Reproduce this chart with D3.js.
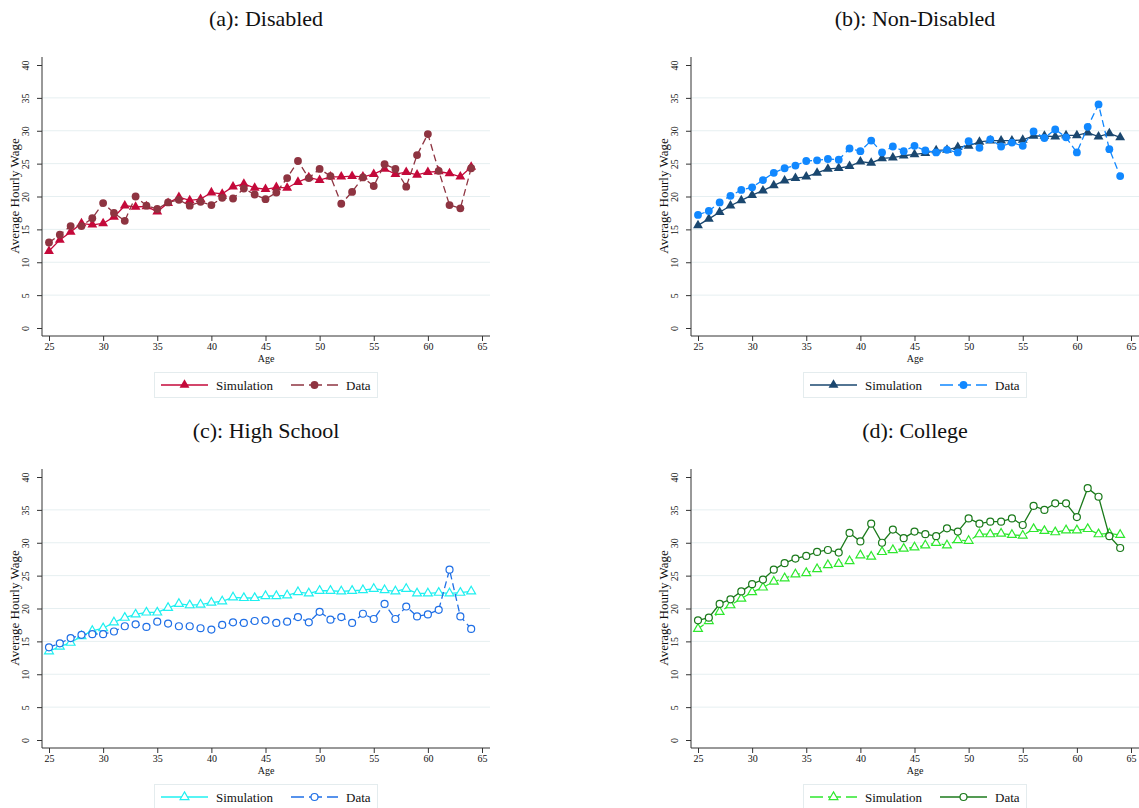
<!DOCTYPE html>
<html>
<head>
<meta charset="utf-8">
<script src="https://cdn.jsdelivr.net/npm/d3@7"></script>
<style>
  body { margin: 0; background: #fff; }
  text { font-family: "Liberation Serif", "Times New Roman", serif; fill: #111; }
</style>
</head>
<body>
<svg id="chart" width="1139" height="808"></svg>
<script>
// ages on the x axis
var ages = [25,26,27,28,29,30,31,32,33,34,35,36,37,38,39,40,41,42,43,44,
            45,46,47,48,49,50,51,52,53,54,55,56,57,58,59,60,61,62,63,64];

// (a) disabled
var disabledSim  = [11.7,13.4,14.6,15.9,15.7,15.9,16.9,18.6,18.4,18.5,17.7,19.0,19.9,19.4,19.6,20.6,20.4,21.5,21.9,21.3,
                    21.1,21.4,21.3,22.2,22.9,22.5,23.0,23.0,23.1,23.0,23.4,24.2,23.4,23.7,23.3,23.7,23.8,23.5,23.0,24.5];
var disabledData = [13.0,14.2,15.5,15.5,16.7,19.0,17.5,16.3,20.0,18.6,18.1,19.1,19.5,18.6,19.2,18.7,19.8,19.7,21.2,20.3,
                    19.6,20.6,22.8,25.4,22.8,24.2,23.1,18.9,20.7,22.9,21.6,24.9,24.2,21.5,26.3,29.5,23.9,18.7,18.2,24.3];
// (b) non-disabled
var nonDisSim    = [15.6,16.6,17.6,18.6,19.4,20.2,20.9,21.7,22.4,22.8,23.0,23.6,24.2,24.3,24.6,25.3,25.1,25.8,25.9,26.2,
                    26.4,26.6,27.0,27.1,27.5,27.7,28.3,28.5,28.5,28.5,28.6,29.2,29.2,29.1,29.3,29.3,29.7,29.1,29.6,29.0];
var nonDisData   = [17.2,17.8,19.1,20.1,21.0,21.4,22.5,23.6,24.3,24.7,25.4,25.5,25.7,25.6,27.3,26.9,28.5,26.7,27.6,26.9,
                    27.7,27.0,26.7,27.1,26.7,28.4,27.4,28.7,27.6,28.2,27.7,29.9,28.9,30.2,29.0,26.7,30.6,34.0,27.2,23.1];
// (c) high school
var highSchSim   = [13.5,14.2,14.8,15.8,16.6,17.0,17.9,18.6,19.1,19.4,19.4,20.1,20.7,20.5,20.6,20.9,21.1,21.7,21.6,21.6,
                    21.9,21.9,22.0,22.5,22.3,22.7,22.7,22.6,22.7,22.8,23.0,22.8,22.6,23.0,22.3,22.3,22.4,22.3,22.4,22.6];
var highSchData  = [14.1,14.7,15.5,16.0,16.1,16.1,16.5,17.3,17.6,17.2,18.0,17.7,17.3,17.3,17.0,16.8,17.5,17.9,17.8,18.1,
                    18.2,17.8,18.0,18.7,17.9,19.5,18.3,18.7,17.8,19.2,18.4,20.7,18.4,20.3,18.8,19.1,19.8,25.9,18.8,16.9];
// (d) college
var collegeSim   = [16.9,18.1,19.5,20.5,21.5,22.5,23.2,24.1,24.6,25.2,25.4,26.0,26.6,26.8,27.2,28.1,27.9,28.6,28.9,29.1,
                    29.3,29.6,30.0,29.6,30.4,30.3,31.3,31.3,31.4,31.2,31.1,32.1,31.8,31.6,31.9,31.9,32.1,31.3,31.4,31.2];
var collegeData  = [18.2,18.6,20.7,21.4,22.6,23.7,24.4,25.9,26.9,27.6,28.0,28.6,28.9,28.5,31.5,30.2,32.9,30.0,32.0,30.7,
                    31.7,31.3,31.0,32.2,31.7,33.7,32.9,33.2,33.2,33.7,32.7,35.6,35.0,36.0,36.0,33.9,38.3,37.0,31.0,29.2];

var xTicks = [25, 30, 35, 40, 45, 50, 55, 60, 65];
var yTicks = [0, 5, 10, 15, 20, 25, 30, 35, 40];
var seriesNames = ["Simulation", "Data"];

var panels = [
  {title: "(a): Disabled", dx: 0, dy: 0, sim: disabledSim, dat: disabledData,
   simColor: "#c4093a", datColor: "#8e3441", simFill: true, datFill: true, simDash: null, datDash: "7,4"},
  {title: "(b): Non-Disabled", dx: 649, dy: 0, sim: nonDisSim, dat: nonDisData,
   simColor: "#1a476f", datColor: "#1188ff", simFill: true, datFill: true, simDash: null, datDash: "7,4"},
  {title: "(c): High School", dx: 0, dy: 412, sim: highSchSim, dat: highSchData,
   simColor: "#1ff0f0", datColor: "#1f6fe6", simFill: false, datFill: false, simDash: null, datDash: "7,4"},
  {title: "(d): College", dx: 649, dy: 412, sim: collegeSim, dat: collegeData,
   simColor: "#2ee82e", datColor: "#1b7a1b", simFill: false, datFill: false, simDash: "7,4", datDash: null}
];

var svg = d3.select("#chart");

var x = d3.scaleLinear().domain([25, 65]).range([49, 482]);
var y = d3.scaleLinear().domain([0, 40]).range([328, 65]);

function marker(g, type, color, filled) {
  var big = filled ? 1 : 0.8;
  var sym = type == "tri" ? d3.symbolTriangle : d3.symbolCircle;
  return g.attr("d", d3.symbol().type(sym).size(type == "tri" ? 42 * big : 48 * big))
    .attr("fill", filled ? color : "#fff")
    .attr("stroke", color)
    .attr("stroke-width", filled ? 0 : 1.2);
}

panels.forEach(function(p) {
  var g = svg.append("g").attr("transform", "translate(" + p.dx + "," + p.dy + ")");

  g.append("text").attr("x", 266).attr("y", 26).attr("text-anchor", "middle")
    .style("font-size", "22px").text(p.title);

  // gridlines
  g.selectAll(".grid").data(yTicks.filter(function(d) { return d > 0 && d < 40; }))
    .enter().append("line")
    .attr("x1", 42).attr("x2", 490)
    .attr("y1", function(d) { return y(d); }).attr("y2", function(d) { return y(d); })
    .attr("stroke", "#e6eff1").attr("stroke-width", 1);

  // y axis
  var ya = g.append("g").attr("transform", "translate(42,0)")
    .call(d3.axisLeft(y).tickValues(yTicks).tickSize(5).tickSizeOuter(0));
  ya.select(".domain").attr("d", "M0,57V336").attr("stroke", "#333");
  ya.selectAll(".tick line").attr("stroke", "#333");
  ya.selectAll(".tick text").attr("x", 0).attr("dy", 0)
    .attr("transform", "translate(-13,0) rotate(-90)")
    .attr("text-anchor", "middle")
    .style("font-size", "10px").style("font-family", "Liberation Serif").attr("fill", "#222");

  // x axis
  var xa = g.append("g").attr("transform", "translate(0,336)")
    .call(d3.axisBottom(x).tickValues(xTicks).tickSize(5).tickSizeOuter(0));
  xa.select(".domain").attr("d", "M42,0H490").attr("stroke", "#333");
  xa.selectAll(".tick line").attr("stroke", "#333");
  xa.selectAll(".tick text").attr("y", 7)
    .style("font-size", "10px").style("font-family", "Liberation Serif").attr("fill", "#222");

  g.append("text").attr("x", 266).attr("y", 362).attr("text-anchor", "middle")
    .style("font-size", "10px").text("Age");
  g.append("text").attr("transform", "translate(19,196) rotate(-90)")
    .attr("text-anchor", "middle").style("font-size", "13px").text("Average Hourly Wage");

  var line = d3.line().x(function(d, i) { return x(ages[i]); }).y(function(d) { return y(d); });

  [{v: p.sim, c: p.simColor, f: p.simFill, d: p.simDash, t: "tri"},
   {v: p.dat, c: p.datColor, f: p.datFill, d: p.datDash, t: "circ"}].forEach(function(s) {
    g.append("path").datum(s.v).attr("d", line)
      .attr("fill", "none").attr("stroke", s.c).attr("stroke-width", 1.3)
      .attr("stroke-dasharray", s.d);
    g.selectAll(null).data(s.v).enter().append("path")
      .attr("transform", function(d, i) { return "translate(" + x(ages[i]) + "," + y(d) + ")"; })
      .call(marker, s.t, s.c, s.f);
  });

  // legend
  var lg = g.append("g");
  lg.append("rect").attr("x", 154.5).attr("y", 372.5).attr("width", 223).attr("height", 25)
    .attr("fill", "#fff").attr("stroke", "#e4ecee");
  var items = [
    {name: seriesNames[0], x1: 161, x2: 208, c: p.simColor, f: p.simFill, d: p.simDash, t: "tri", tx: 216},
    {name: seriesNames[1], x1: 291, x2: 338, c: p.datColor, f: p.datFill, d: p.datDash, t: "circ", tx: 346}
  ];
  items.forEach(function(it) {
    lg.append("line").attr("x1", it.x1).attr("x2", it.x2).attr("y1", 385).attr("y2", 385)
      .attr("stroke", it.c).attr("stroke-width", 1.3).attr("stroke-dasharray", it.d ? "13,5" : null);
    lg.append("path").attr("transform", "translate(" + (it.x1 + it.x2) / 2 + ",385)")
      .call(marker, it.t, it.c, it.f);
    lg.append("text").attr("x", it.tx).attr("y", 389.5).style("font-size", "13px").text(it.name);
  });
});
</script>
</body>
</html>
